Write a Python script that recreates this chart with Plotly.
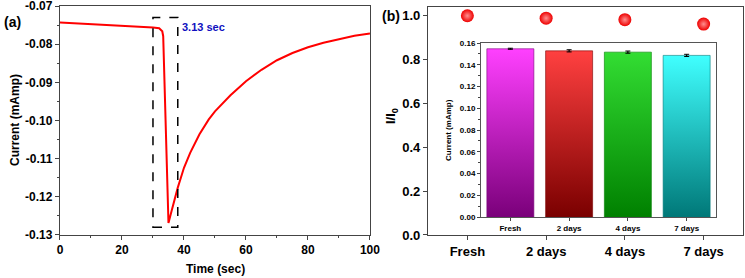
import plotly.graph_objects as go

# ---- Panel (a): chronoamperometric response ----
time_s = [0, 5, 10, 15, 20, 25, 30, 32, 33, 33.3, 33.7, 34.0, 34.3, 34.6, 35.0,
          36, 37, 38, 39, 40, 42, 45, 48, 50, 55, 60, 65, 70, 75, 78, 80, 85, 90, 95, 100]
current_ma = [-0.0743, -0.0745, -0.0747, -0.0749, -0.0751, -0.0753, -0.0756, -0.0758,
              -0.0766, -0.0779, -0.0900, -0.1000, -0.1100, -0.1180, -0.1269,
              -0.1237, -0.1205, -0.1176, -0.1150, -0.1124, -0.1085, -0.1036, -0.0997,
              -0.0976, -0.0934, -0.0897, -0.0867, -0.0842, -0.0823, -0.0813, -0.0808,
              -0.0796, -0.0786, -0.0778, -0.0772]
box_t = [30, 38]
box_i = [-0.128, -0.073]
resp_label = "3.13 sec"
y_ticks_a = [-0.13, -0.12, -0.11, -0.10, -0.09, -0.08, -0.07]

# ---- Panel (b): stability ----
days = ["Fresh", "2 days", "4 days", "7 days"]
ratio = [1.0, 0.989, 0.982, 0.962]
inset_current = [0.1548, 0.1529, 0.1517, 0.1487]
inset_err = [0.0005, 0.0010, 0.0010, 0.0010]
bar_top = ["#ff40ff", "#ff4040", "#33dd33", "#40ffff"]
bar_bottom = ["#7a007a", "#7a0000", "#008000", "#007878"]

FONT = "Liberation Sans, Arial, sans-serif"
fig = go.Figure()

fig.add_trace(go.Scatter(x=time_s, y=current_ma, mode="lines",
                         line=dict(color="#ff0000", width=2), xaxis="x", yaxis="y",
                         showlegend=False))

# inset bars with vertical gradient
for i, (v, ct, cb) in enumerate(zip(inset_current, bar_top, bar_bottom)):
    fig.add_trace(go.Scatter(
        x=[i - 0.4, i + 0.4, i + 0.4, i - 0.4, i - 0.4],
        y=[0, 0, v, v, 0], mode="lines", fill="toself",
        line=dict(color=cb, width=0.6),
        fillgradient=dict(type="vertical", colorscale=[[0, cb], [1, ct]]),
        xaxis="x3", yaxis="y3", showlegend=False, hoverinfo="skip"))
fig.add_trace(go.Scatter(x=list(range(len(days))), y=inset_current, mode="markers",
                         marker=dict(size=1, color="black"),
                         error_y=dict(type="data", array=inset_err, color="black",
                                      thickness=1, width=2.5),
                         xaxis="x3", yaxis="y3", showlegend=False))

fig.add_trace(go.Scatter(x=days, y=ratio, mode="markers",
                         marker=dict(size=13, color="#ee0000",
                                     gradient=dict(type="radial", color="#ff9090"),
                                     line=dict(width=0)),
                         xaxis="x2", yaxis="y2", showlegend=False))

fig.add_shape(type="rect", xref="x", yref="y", x0=box_t[0], x1=box_t[1],
              y0=box_i[0], y1=box_i[1], line=dict(color="black", width=1.5, dash="dash"))

axis_common = dict(showgrid=False, zeroline=False, showline=True, linecolor="#444",
                   linewidth=1.2, mirror=True, ticks="outside", tickcolor="#444",
                   ticklen=4, tickwidth=1.2, automargin=False, ticklabeloverflow="allow",
                   tickfont=dict(family=FONT, size=12, color="black", weight="bold"))

fig.update_layout(
    width=745, height=278, margin=dict(l=0, r=0, t=0, b=0),
    paper_bgcolor="white", plot_bgcolor="white",
    xaxis=dict(domain=[0.0805, 0.4966], range=[0, 100], dtick=20,
               minor=dict(dtick=10, ticks="outside", ticklen=2, tickcolor="#444"),
               anchor="y", **axis_common),
    yaxis=dict(domain=[0.1547, 0.9784], range=[-0.13002, -0.06998],
               tickvals=y_ticks_a, ticktext=[f"{v:.2f}" for v in y_ticks_a],
               minor=dict(dtick=0.005, ticks="outside", ticklen=2, tickcolor="#444"),
               anchor="x", **axis_common),
    xaxis2=dict(domain=[0.5745, 0.9973], range=[-0.5, 3.5], anchor="y2",
                type="category", **axis_common),
    yaxis2=dict(domain=[0.1547, 0.9748], range=[0, 1.04], dtick=0.2, tickformat=".1f",
                anchor="x2", **axis_common),
)
fig.layout.xaxis2.tickfont.size = 13
fig.layout.yaxis2.tickfont.size = 13

inset_axis = dict(showgrid=False, zeroline=False, showline=True, linecolor="#555",
                  linewidth=1, mirror=True, ticks="outside", tickcolor="#444", ticklen=3,
                  automargin=False, ticklabeloverflow="allow",
                  tickfont=dict(family=FONT, size=8, color="black", weight="bold"))
fig.update_layout(
    xaxis3=dict(domain=[0.6456, 0.9611], range=[-0.5, 3.5], anchor="y3",
                tickvals=list(range(len(days))), ticktext=days, **inset_axis),
    yaxis3=dict(domain=[0.2194, 0.8453], range=[0, 0.1601], dtick=0.02, tickformat=".2f",
                minor=dict(dtick=0.01, ticks="outside", ticklen=2, tickcolor="#444"),
                anchor="x3", **inset_axis),
)

def ann(text, x, y, size, angle=0, color="black", xanchor="center"):
    fig.add_annotation(text=text, x=x, y=y, xref="paper", yref="paper", showarrow=False,
                       textangle=angle, xanchor=xanchor, yanchor="middle",
                       font=dict(family=FONT, size=size, color=color, weight="bold"))

W, H = 745, 278
ann("Current (mAmp)", 15 / W, 1 - 120 / H, 12, angle=-90)
ann("Time (sec)", 215 / W, 1 - 269 / H, 12)
ann("I/I<sub>0</sub>", 391 / W, 1 - 116 / H, 13, angle=-90)
ann("Current (mAmp)", 448 / W, 1 - 130 / H, 8, angle=-90)
ann("(a)", 2 / W, 1 - 22 / H, 14, xanchor="left")
ann("(b)", 380 / W, 1 - 16 / H, 14, xanchor="left")
fig.add_annotation(text=resp_label, x=box_t[1] + 0.8, y=-0.0756, xref="x", yref="y",
                   showarrow=False, xanchor="left", yanchor="middle",
                   font=dict(family=FONT, size=11, color="#1010c0", weight="bold"))

fig.write_html("out.html", config={"displayModeBar": False},
               post_script="document.body.style.margin='0';document.body.style.overflow='hidden';")
